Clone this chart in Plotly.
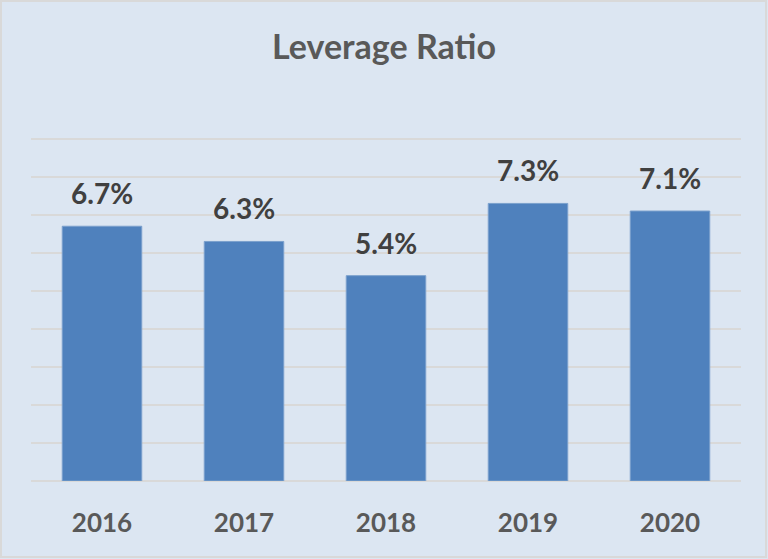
import plotly.graph_objects as go

years = ["2016", "2017", "2018", "2019", "2020"]
ratios = [6.7, 6.3, 5.4, 7.3, 7.1]
labels = ["6.7%", "6.3%", "5.4%", "7.3%", "7.1%"]

font_family = "Lato, 'Open Sans', sans-serif"
positions = list(range(len(years)))

fig = go.Figure(go.Bar(
    x=positions, y=ratios,
    marker=dict(color="#4F81BD", line=dict(color="#7BA0CD", width=1)),
    hoverinfo="none",
))

for x, y, t in zip(positions, ratios, labels):
    fig.add_annotation(x=x, y=y, xref="x", yref="y", text="<b>%s</b>" % t,
                       showarrow=False, yanchor="bottom", yshift=14,
                       font=dict(family=font_family, size=28, color="#404040"))

W, H = 768, 559
l, r, t, b = 31, 27, 100, 78
pw, ph = W - l - r, H - t - b

fig.add_shape(type="rect", xref="paper", yref="paper",
              x0=(1 - l) / pw, x1=(W - 2 - l) / pw,
              y0=-(H - 2 - t - ph) / ph,
              y1=(ph + t - 1) / ph,
              line=dict(color="#D9D9D9", width=2), layer="below")

fig.update_layout(
    width=W, height=H,
    margin=dict(l=l, r=r, t=t, b=b),
    paper_bgcolor="#DCE6F2", plot_bgcolor="#DCE6F2",
    bargap=0.44,
    showlegend=False,
    title=dict(text="<b>Leverage Ratio</b>", x=0.5, xanchor="center",
               y=1 - 47 / H, yanchor="middle",
               font=dict(family=font_family, size=34, color="#595959")),
    xaxis=dict(range=[-0.5, len(years) - 0.5], tickmode="array",
               tickvals=positions, ticktext=["<b>%s</b>" % y for y in years],
               showgrid=False, showline=False, zeroline=False,
               tickfont=dict(family=font_family, size=26, color="#595959"),
               ticks="outside", ticklen=19, tickcolor="rgba(0,0,0,0)"),
    yaxis=dict(range=[0, 10.02], tickmode="array",
               tickvals=list(range(11)), showticklabels=False,
               gridcolor="#D9D9D9", gridwidth=2, zeroline=True,
               zerolinecolor="#D9D9D9", zerolinewidth=2),
)

fig.write_html("out.html", config={"displayModeBar": False},
               post_script="document.body.style.margin='0';")
